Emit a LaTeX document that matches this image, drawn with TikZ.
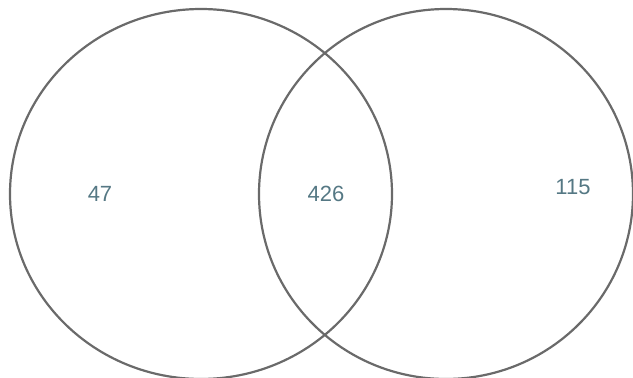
\documentclass[tikz,border=0pt]{standalone}
\usepackage{fontspec}
\setmainfont{Liberation Sans}
\usetikzlibrary{shapes.geometric, positioning}

\definecolor{ringgray}{HTML}{6A6A6A}
\definecolor{counttext}{HTML}{557884}

\begin{document}
\begin{tikzpicture}[
    x=1pt, y=-1pt,
    font=\fontsize{22}{26}\selectfont,
    setring/.style={ellipse, draw=ringgray, line width=2.2pt, inner sep=0pt},
    count/.style={text=counttext, inner sep=1pt}
]
\useasboundingbox (0,0) rectangle (633,378);

% ---- Sets ----
\node[setring, minimum width=382pt, minimum height=370pt] (setA) at (201,194) {};
\node[setring, minimum width=374pt, minimum height=370pt] (setB) at (446,194) {};

% ---- Counts ----
\node[count] (onlyA) at (100,194) {47};
\node[count] (both) at (326,194) {426};
\node[count] (onlyB) at (573,187) {115};

\end{tikzpicture}
\end{document}
